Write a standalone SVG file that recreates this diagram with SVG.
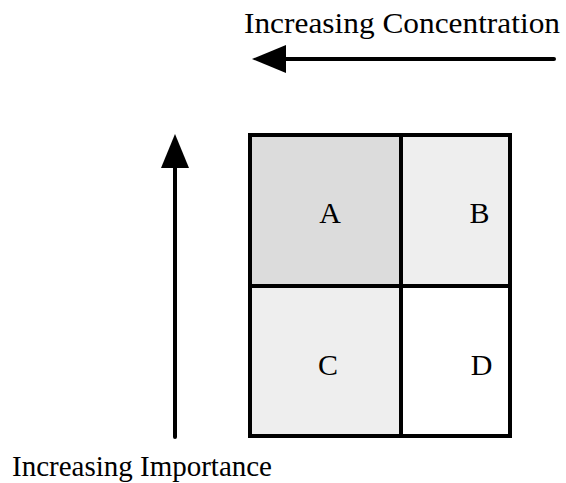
<svg xmlns="http://www.w3.org/2000/svg" width="566" height="483" viewBox="0 0 566 483">
<style>
.cell{stroke:#000;stroke-width:4}
.lbl{font-family:"Liberation Serif","Times New Roman",serif;font-size:30px;fill:#000}
.mid{text-anchor:middle}
.conn{stroke:#000;stroke-width:4;fill:none;stroke-linecap:round}
</style>
<defs>
<marker id="ah" markerUnits="userSpaceOnUse" viewBox="0 0 34 28" refX="0" refY="14" markerWidth="34" markerHeight="28" orient="auto">
<path d="M0,0 L34,14 L0,28 Z" fill="#000"/>
</marker>
</defs>
<rect width="566" height="483" fill="#fff"/>
<g id="A"><rect class="cell" x="250" y="135" width="151" height="151" fill="#dcdcdc"/><text class="lbl mid" x="330" y="223">A</text></g>
<g id="B"><rect class="cell" x="401" y="135" width="109" height="151" fill="#eeeeee"/><text class="lbl mid" x="479.5" y="223">B</text></g>
<g id="C"><rect class="cell" x="250" y="286" width="151" height="150" fill="#eeeeee"/><text class="lbl mid" x="328" y="375">C</text></g>
<g id="D"><rect class="cell" x="401" y="286" width="109" height="150" fill="#fff"/><text class="lbl mid" x="481.5" y="375">D</text></g>
<g id="connectors">
<line class="conn" x1="554" y1="59" x2="286" y2="59" marker-end="url(#ah)"/>
<line class="conn" x1="175" y1="437" x2="175" y2="168" marker-end="url(#ah)"/>
</g>
<text class="lbl" x="244" y="33" textLength="316" lengthAdjust="spacingAndGlyphs">Increasing Concentration</text>
<text class="lbl" x="12" y="476" textLength="260" lengthAdjust="spacingAndGlyphs">Increasing Importance</text>
</svg>
